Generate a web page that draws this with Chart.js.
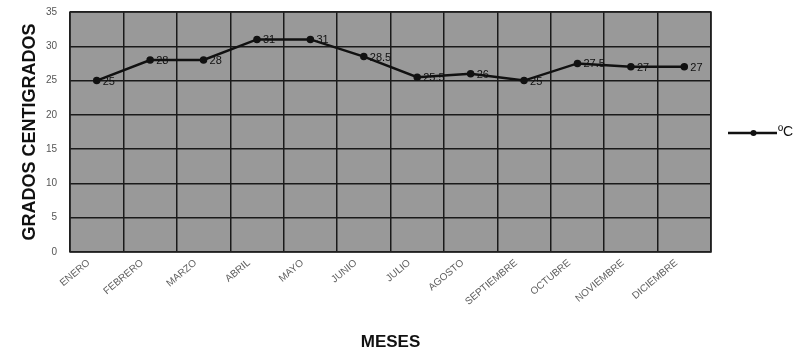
<!DOCTYPE html>
<html>
<head>
<meta charset="utf-8">
<script src="https://cdn.jsdelivr.net/npm/chart.js@4/dist/chart.umd.min.js"></script>
<style>
  html, body { margin: 0; padding: 0; background: #fff; }
  #wrap { width: 793px; height: 356px; }
</style>
</head>
<body>
<div id="wrap"><canvas id="c" width="793" height="356"></canvas></div>
<script>
// Temperatura media mensual
const meses = ['ENERO', 'FEBRERO', 'MARZO', 'ABRIL', 'MAYO', 'JUNIO', 'JULIO',
  'AGOSTO', 'SEPTIEMBRE', 'OCTUBRE', 'NOVIEMBRE', 'DICIEMBRE'];
const temperaturas = [25, 28, 28, 31, 31, 28.5, 25.5, 26, 25, 27.5, 27, 27];
const serieNombre = 'ºC';
const yMin = 0, yMax = 35, yPaso = 5;

const FONT = '"Liberation Sans", Arial, sans-serif';

// Gray plot background and dark frame
const fondoArea = {
  id: 'fondoArea',
  beforeDraw(chart) {
    const { ctx, chartArea: a } = chart;
    ctx.save();
    ctx.fillStyle = '#999999';
    ctx.fillRect(a.left, a.top, a.right - a.left, a.bottom - a.top);
    ctx.restore();
  },
  afterDraw(chart) {
    const { ctx, chartArea: a } = chart;
    ctx.save();
    ctx.strokeStyle = '#222';
    ctx.lineWidth = 1.5;
    ctx.strokeRect(a.left, a.top, a.right - a.left, a.bottom - a.top);
    ctx.restore();
  }
};

// Value labels beside each point
const etiquetas = {
  id: 'etiquetas',
  afterDatasetsDraw(chart) {
    const { ctx } = chart;
    const meta = chart.getDatasetMeta(0);
    const data = chart.data.datasets[0].data;
    ctx.save();
    ctx.font = '11px ' + FONT;
    ctx.fillStyle = '#111';
    ctx.textAlign = 'left';
    ctx.textBaseline = 'middle';
    meta.data.forEach((pt, i) => {
      ctx.fillText(String(data[i]), pt.x + 6, pt.y + 1);
    });
    ctx.restore();
  }
};

// Legend on the right: line with a marker and the series name
const leyenda = {
  id: 'leyenda',
  afterDraw(chart) {
    const { ctx, chartArea: a } = chart;
    const y = (a.top + a.bottom) / 2 + 1;
    const x0 = 728, x1 = 777;
    ctx.save();
    ctx.strokeStyle = '#111';
    ctx.lineWidth = 2.5;
    ctx.beginPath();
    ctx.moveTo(x0, y);
    ctx.lineTo(x1, y);
    ctx.stroke();
    ctx.fillStyle = '#111';
    ctx.beginPath();
    ctx.arc((x0 + x1) / 2 + 1, y, 3, 0, Math.PI * 2);
    ctx.fill();
    ctx.font = '14px ' + FONT;
    ctx.textAlign = 'left';
    ctx.textBaseline = 'middle';
    ctx.fillText(serieNombre, x1 + 1, y - 1);
    ctx.restore();
  }
};

new Chart(document.getElementById('c'), {
  type: 'line',
  data: {
    labels: meses,
    datasets: [{
      label: serieNombre,
      data: temperaturas,
      borderColor: '#111',
      borderWidth: 2.5,
      pointBackgroundColor: '#111',
      pointBorderColor: '#111',
      pointRadius: 2.5,
      tension: 0
    }]
  },
  options: {
    responsive: false,
    animation: false,
    devicePixelRatio: 1,
    layout: { padding: { top: 12, right: 82, left: 0, bottom: 0 } },
    plugins: {
      legend: { display: false },
      tooltip: { enabled: false }
    },
    scales: {
      x: {
        offset: true,
        grid: { offset: true, color: '#1a1a1a', lineWidth: 1.5, drawTicks: false },
        border: { display: false },
        ticks: {
          autoSkip: false,
          maxRotation: 40,
          minRotation: 40,
          padding: 5,
          labelOffset: -8,
          color: '#5e5e5e',
          font: { family: FONT, size: 10 }
        },
        title: {
          display: true,
          text: 'MESES',
          color: '#111',
          font: { family: FONT, size: 17, weight: 'bold' },
          padding: { top: 0, bottom: 3 }
        },
        afterFit(scale) { scale.height = 104; }
      },
      y: {
        min: yMin,
        max: yMax,
        ticks: {
          stepSize: yPaso,
          padding: 13,
          color: '#555',
          font: { family: FONT, size: 10 }
        },
        grid: { color: '#1a1a1a', lineWidth: 1.5, drawTicks: false },
        border: { display: false },
        title: {
          display: true,
          text: 'GRADOS CENTIGRADOS',
          color: '#111',
          font: { family: FONT, size: 18, weight: 'bold' },
          padding: { top: 19, bottom: 0 }
        },
        afterFit(scale) {
          scale.width = 70;
          scale.paddingTop = 0;
          scale.paddingBottom = 0;
        }
      }
    }
  },
  plugins: [fondoArea, etiquetas, leyenda]
});
</script>
</body>
</html>
